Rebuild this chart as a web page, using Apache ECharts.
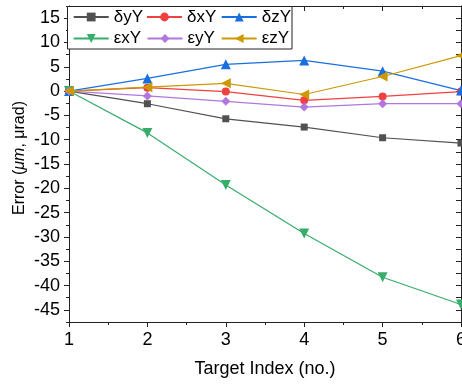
<!DOCTYPE html>
<html>
<head>
<meta charset="utf-8">
<script src="https://cdn.jsdelivr.net/npm/echarts@6/dist/echarts.min.js"></script>
<style>html,body{margin:0;padding:0;background:#fff}#c{width:462px;height:385px}</style>
</head>
<body>
<div id="c"></div>
<script>
const targetIndex = [1, 2, 3, 4, 5, 6];
const dyY = [0, -2.6, -5.7, -7.4, -9.6, -10.7];
const dxY = [0, 0.7, -0.1, -1.9, -1.1, -0.1];
const dzY = [0, 2.6, 5.5, 6.3, 4.1, 0.1];
const exY = [0, -8.6, -19.3, -29.3, -38.3, -43.9];
const eyY = [0, -1.0, -2.1, -3.3, -2.6, -2.6];
const ezY = [0, 0.8, 1.6, -0.7, 3.0, 7.3];
const seriesNames = ['δyY', 'δxY', 'δzY', 'εxY', 'εyY', 'εzY'];
const seriesValues = [dyY, dxY, dzY, exY, eyY, ezY];
const xTitle = 'Target Index (no.)';

const colors = ['#515151', '#F14040', '#1A6FDF', '#37AD6B', '#B177DE', '#CC9900'];
const symbols = ['rect', 'circle', 'triangle', 'triangle', 'diamond', 'triangle'];
const symRot = [0, 0, 0, 180, 0, 90];
const symSize = [7, 8, 10, 10, 9, 10];
const FONT = 'Liberation Sans, Arial, sans-serif';

const chart = echarts.init(document.getElementById('c'), null, {renderer: 'canvas'});

const series = seriesNames.map((n, i) => ({
  name: n,
  type: 'line',
  xAxisIndex: 0,
  yAxisIndex: 0,
  data: targetIndex.map((x, k) => [x, seriesValues[i][k]]),
  symbol: symbols[i],
  symbolRotate: symRot[i],
  symbolSize: symSize[i],
  showAllSymbol: true,
  clip: false,
  lineStyle: {color: colors[i], width: 1.2},
  itemStyle: {color: colors[i]},
  emphasis: {disabled: true},
  animation: false
}));

const legendPos = [[72.7, 8.5], [146, 8.5], [220.7, 8.5], [72.7, 30], [146.5, 30], [220.7, 30]];
const legends = seriesNames.map((n, i) => ({
  data: [n],
  left: legendPos[i][0],
  top: legendPos[i][1],
  padding: 0,
  itemWidth: 35,
  itemHeight: 11,
  selectedMode: false,
  z: 6,
  textStyle: {fontFamily: FONT, fontSize: 17, color: '#000'}
}));

const axisLineStyle = {color: '#222', width: 1};
const Y_MIN = -47.5, Y_MAX = 17.5;

chart.setOption({
  animation: false,
  color: colors,
  grid: {left: 69, right: 1, top: 6, bottom: 63, outerBoundsMode: 'none', containLabel: false},
  legend: legends,
  graphic: [{
    type: 'rect',
    shape: {x: 67.5, y: 6.5, width: 224.5, height: 42.5},
    style: {fill: '#fff', stroke: '#222', lineWidth: 1},
    z: 5
  }],
  xAxis: [{
    type: 'value', position: 'bottom', min: 1, max: 6, interval: 1,
    axisLine: {show: true, onZero: false, lineStyle: axisLineStyle},
    axisTick: {show: true, inside: false, length: 5, lineStyle: axisLineStyle},
    minorTick: {show: true, splitNumber: 2, length: 3, lineStyle: axisLineStyle},
    splitLine: {show: false},
    axisLabel: {fontFamily: FONT, fontSize: 18, color: '#000', margin: 9, hideOverlap: false},
    name: xTitle, nameLocation: 'middle', nameGap: 38, nameMoveOverlap: false,
    nameTextStyle: {fontFamily: FONT, fontSize: 18, color: '#000'}
  }, {
    type: 'value', position: 'top', min: 1, max: 6, interval: 1,
    axisLine: {show: true, onZero: false, lineStyle: axisLineStyle},
    axisTick: {show: true, inside: true, length: 5, lineStyle: axisLineStyle},
    minorTick: {show: true, splitNumber: 2, length: 3, lineStyle: axisLineStyle},
    splitLine: {show: false},
    axisLabel: {show: false}
  }],
  yAxis: [{
    type: 'value', position: 'left', min: Y_MIN, max: Y_MAX,
    splitNumber: 13, minInterval: 5, maxInterval: 5,
    axisLine: {show: true, onZero: false, lineStyle: axisLineStyle},
    axisTick: {show: true, inside: false, length: 5, lineStyle: axisLineStyle},
    splitLine: {show: false},
    axisLabel: {
      fontFamily: FONT, fontSize: 18, color: '#000', margin: 9,
      showMinLabel: false, showMaxLabel: false,
      formatter: v => (Math.abs(v % 5) < 1e-6 ? String(v) : '')
    },
    name: 'Error ({i|μm}, μrad)', nameLocation: 'middle', nameGap: 41, nameMoveOverlap: false,
    nameTextStyle: {fontFamily: FONT, fontSize: 16, color: '#000', padding: [0, 0, 0, 12],
      rich: {i: {fontFamily: FONT, fontSize: 16, fontStyle: 'italic', color: '#000'}}}
  }, {
    type: 'value', position: 'left', min: Y_MIN, max: Y_MAX, interval: 2.5,
    axisLine: {show: false, onZero: false},
    axisTick: {show: true, inside: false, length: 3, lineStyle: axisLineStyle},
    splitLine: {show: false},
    axisLabel: {show: false}
  }, {
    type: 'value', position: 'right', min: Y_MIN, max: Y_MAX, interval: 2.5,
    axisLine: {show: true, onZero: false, lineStyle: axisLineStyle},
    axisTick: {show: true, inside: true, length: 5, lineStyle: axisLineStyle},
    splitLine: {show: false},
    axisLabel: {show: false}
  }],
  series: series
});
</script>
</body>
</html>
